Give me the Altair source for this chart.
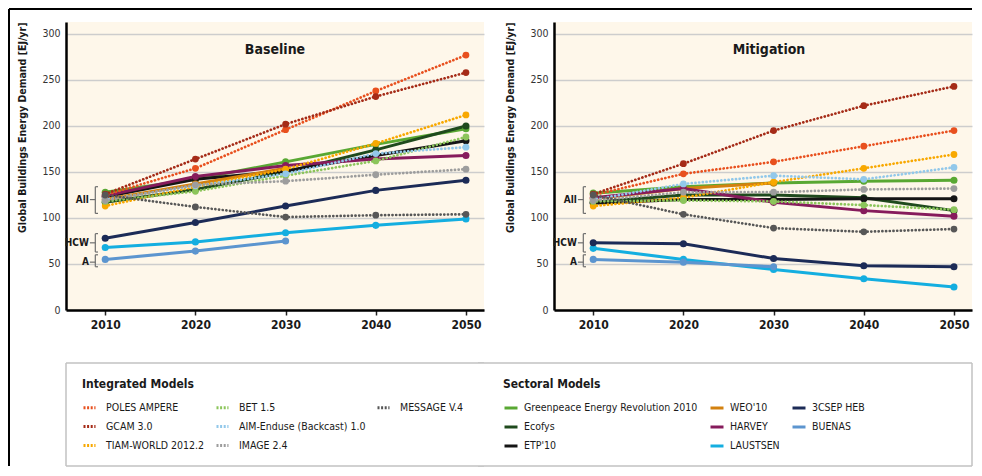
import altair as alt
import pandas as pd

FONT = "DejaVu Sans Condensed, DejaVu Sans, sans-serif"
BG = "#fef7ea"
INK = "#1a1a1a"
BOX = "#c2c2c2"

YEARS = [2010, 2020, 2030, 2040, 2050]
Y_TICKS = [0, 50, 100, 150, 200, 250, 300]

INTEGRATED = ["POLES AMPERE", "GCAM 3.0", "TIAM-WORLD 2012.2", "BET 1.5",
              "AIM-Enduse (Backcast) 1.0", "IMAGE 2.4", "MESSAGE V.4"]
INTEGRATED_COLORS = ["#e8501e", "#a52b17", "#f8a800", "#8cc55b",
                     "#92c8ea", "#9d9d9d", "#575757"]

SECTORAL = ["Greenpeace Energy Revolution 2010", "Ecofys", "ETP'10", "WEO'10",
            "HARVEY", "LAUSTSEN", "3CSEP HEB", "BUENAS"]
SECTORAL_COLORS = ["#59a833", "#1f4a1d", "#151515", "#d3810f",
                   "#861b5c", "#14aee0", "#1c2b57", "#5c95cf"]
SECTORAL_WIDTHS = [3, 3, 3, 3, 3, 3.6, 3, 2.2]

BASELINE = {
    "POLES AMPERE": [125, 154, 196, 238, 277],
    "GCAM 3.0": [126, 164, 202, 232, 258],
    "TIAM-WORLD 2012.2": [113, 134, 153, 181, 212],
    "BET 1.5": [118, 129, 146, 162, 188],
    "AIM-Enduse (Backcast) 1.0": [120, 135, 148, 170, 177],
    "IMAGE 2.4": [119, 136, 140, 147, 153],
    "MESSAGE V.4": [125, 112, 101, 103, 104],
    "Greenpeace Energy Revolution 2010": [128, 142, 161, 180, 197],
    "Ecofys": [117, 131, 150, 174, 200],
    "ETP'10": [123, 142, 151, 168, 184],
    "WEO'10": [120, 137, 154, None, None],
    "HARVEY": [124, 145, 157, 164, 168],
    "LAUSTSEN": [68, 74, 84, 92, 99],
    "3CSEP HEB": [78, 95, 113, 130, 141],
    "BUENAS": [55, 64, 75, None, None],
}

MITIGATION = {
    "POLES AMPERE": [125, 148, 161, 178, 195],
    "GCAM 3.0": [126, 159, 195, 222, 243],
    "TIAM-WORLD 2012.2": [113, 122, 139, 154, 169],
    "BET 1.5": [118, 119, 118, 114, 109],
    "AIM-Enduse (Backcast) 1.0": [120, 137, 146, 142, 155],
    "IMAGE 2.4": [119, 128, 128, 131, 132],
    "MESSAGE V.4": [125, 104, 89, 85, 88],
    "Greenpeace Energy Revolution 2010": [127, 134, 138, 140, 141],
    "Ecofys": [117, 125, 125, 122, 108],
    "ETP'10": [116, 120, 120, 121, 121],
    "WEO'10": [121, 132, 138, None, None],
    "HARVEY": [122, 132, 117, 108, 102],
    "LAUSTSEN": [67, 55, 44, 34, 25],
    "3CSEP HEB": [73, 72, 56, 48, 47],
    "BUENAS": [55, 52, 47, None, None],
}

BRACKET_LABELS = ["All", "HCW", "A"]
BRACKET_MID = [120, 73, 52]
BRACKET_LOW = [105, 63, 47]
BRACKET_HIGH = [134, 83, 60]

W, H = 418, 288
GAP = 72          # gap between the two plot areas
OVERLAP = 4       # the right panel's share of frame/legend box reaches over the gap
BOX_TOP, BOX_BOTTOM = 341, 444   # legend box, px below plot top
FRAME_X, FRAME_Y = -57, -13
LEGEND_SLOTS = 9  # 3 columns x 3 rows, filled column by column


def padded(names, values, filler):
    """Pad a legend domain to a full 3x3 grid with blank, invisible entries."""
    dom, rng = list(names), list(values)
    k = 1
    while len(dom) < LEGEND_SLOTS:
        dom.append(" " * k)
        rng.append(filler)
        k += 1
    return dom, rng


INT_DOMAIN, INT_RANGE = padded(INTEGRATED, INTEGRATED_COLORS, "transparent")
SEC_DOMAIN, SEC_RANGE = padded(SECTORAL, SECTORAL_COLORS, "transparent")
_, SEC_WIDTH_RANGE = padded(SECTORAL, SECTORAL_WIDTHS, 1)

LEG_COMMON = dict(orient="none", columns=3, symbolType="stroke",
                  labelFont=FONT, labelFontSize=10.5, labelColor=INK, labelLimit=400,
                  titleFont=FONT, titleFontSize=12, titleFontWeight="bold", titleColor=INK,
                  titlePadding=9, rowPadding=5, padding=0)
INT_LEGEND = alt.Legend(title="Integrated Models", legendX=16, legendY=357,
                        symbolSize=144, symbolStrokeWidth=3, symbolDash=[2, 1.6],
                        labelOffset=9, columnPadding=5, **LEG_COMMON)
SEC_LEGEND = alt.Legend(title="Sectoral Models", legendX=437, legendY=357,
                        symbolSize=169, symbolStrokeWidth=3.5,
                        labelOffset=5, columnPadding=6, **LEG_COMMON)

X_SCALE = alt.Scale(domain=[2005.65, 2052], nice=False, zero=False)
Y_SCALE = alt.Scale(domain=[0, 313], nice=False)


def build_panel(values, title_text, title_dx, side):
    rows = []
    for model in INTEGRATED + SECTORAL:
        for yr, v in zip(YEARS, values[model]):
            if v is not None:
                rows.append({"model": model, "year": yr, "value": v,
                             "kind": "Integrated" if model in INTEGRATED else "Sectoral"})
    df = pd.DataFrame(rows)

    x_enc = alt.X("year:Q", scale=X_SCALE, title=None,
                  axis=alt.Axis(values=YEARS, format="d", grid=False,
                                domainColor="black", domainWidth=2.5,
                                tickColor="#222", tickSize=5, tickWidth=1.5,
                                labelFont=FONT, labelFontSize=12, labelFontWeight="bold",
                                labelColor=INK, labelPadding=4))
    y_enc = alt.Y("value:Q", scale=Y_SCALE,
                  axis=alt.Axis(values=Y_TICKS, title="Global Buildings Energy Demand [EJ/yr]",
                                grid=True, gridColor="#cdcdcd", gridWidth=1.3,
                                domainColor="black", domainWidth=2.5, ticks=False,
                                labelFont=FONT, labelFontSize=10.5, labelColor="#333",
                                labelPadding=6, titleFont=FONT, titleFontSize=10.5,
                                titleFontWeight="bold", titleColor=INK,
                                titleAnchor="end", titlePadding=14))
    base = alt.Chart(df).encode(x=x_enc, y=y_enc)
    sect = base.transform_filter(alt.datum.kind == "Sectoral")
    integ = base.transform_filter(alt.datum.kind == "Integrated")

    sect_line = sect.mark_line().encode(
        stroke=alt.Stroke("model:N", scale=alt.Scale(domain=SEC_DOMAIN, range=SEC_RANGE),
                          legend=SEC_LEGEND),
        strokeWidth=alt.StrokeWidth("model:N", scale=alt.Scale(domain=SEC_DOMAIN,
                                                               range=SEC_WIDTH_RANGE),
                                    legend=None))
    sect_pts = sect.mark_circle(size=50, opacity=1).encode(
        fill=alt.Fill("model:N", scale=alt.Scale(domain=SEC_DOMAIN, range=SEC_RANGE),
                      legend=None))
    int_line = integ.mark_line(strokeDash=[0.1, 3.6], strokeCap="round",
                               strokeWidth=2.7).encode(
        color=alt.Color("model:N", scale=alt.Scale(domain=INT_DOMAIN, range=INT_RANGE),
                        legend=INT_LEGEND))
    int_pts = integ.mark_circle(size=46, opacity=1).encode(
        color=alt.Color("model:N", scale=alt.Scale(domain=INT_DOMAIN, range=INT_RANGE),
                        legend=INT_LEGEND))

    bdf = pd.DataFrame({"label": BRACKET_LABELS, "mid": BRACKET_MID,
                        "low": BRACKET_LOW, "high": BRACKET_HIGH})
    bch = alt.Chart(bdf)
    rule_style = dict(color="#6e6e6e", strokeWidth=1.2)
    b_vert = bch.mark_rule(**rule_style).encode(
        x=alt.X(datum=2008.9), y=alt.Y("low:Q"), y2="high:Q")
    b_low = bch.mark_rule(**rule_style).encode(
        x=alt.X(datum=2008.9), x2=alt.X2(datum=2009.2), y=alt.Y("low:Q"))
    b_high = bch.mark_rule(**rule_style).encode(
        x=alt.X(datum=2008.9), x2=alt.X2(datum=2009.2), y=alt.Y("high:Q"))
    b_mid = bch.mark_rule(**rule_style).encode(
        x=alt.X(datum=2008.3), x2=alt.X2(datum=2008.9), y=alt.Y("mid:Q"))
    b_text = bch.mark_text(align="right", baseline="middle", font=FONT, fontSize=10,
                           fontWeight="bold", color=INK, dx=-1).encode(
        x=alt.X(datum=2008.3), y=alt.Y("mid:Q"), text="label:N")

    title = alt.Chart(pd.DataFrame({"t": [title_text]})).mark_text(
        font=FONT, fontSize=14, fontWeight="bold", color=INK, baseline="middle").encode(
        text="t:N", x=alt.value(W / 2 + title_dx), y=alt.value(28))

    # pieces of the outer frame and of the legend box that this panel carries
    one = pd.DataFrame({"k": [0]})
    if side == "left":
        x0, x1 = 0, W
        deco = [
            alt.Chart(one).mark_rect(color="white").encode(
                x=alt.value(x0), x2=alt.value(x1), y=alt.value(BOX_TOP), y2=alt.value(BOX_BOTTOM)),
            alt.Chart(one).mark_rule(color=BOX, strokeWidth=1.5).encode(
                x=alt.value(x0), y=alt.value(BOX_TOP), y2=alt.value(BOX_BOTTOM)),
            alt.Chart(one).mark_rule(color="black", strokeWidth=2).encode(
                x=alt.value(FRAME_X), x2=alt.value(x1), y=alt.value(FRAME_Y)),
            alt.Chart(one).mark_rule(color="black", strokeWidth=2).encode(
                x=alt.value(FRAME_X), y=alt.value(FRAME_Y), y2=alt.value(BOX_BOTTOM)),
        ]
    else:
        x0, x1 = -GAP - OVERLAP, W
        deco = [
            alt.Chart(one).mark_rect(color="white").encode(
                x=alt.value(x0), x2=alt.value(x1), y=alt.value(BOX_TOP), y2=alt.value(BOX_BOTTOM)),
            alt.Chart(one).mark_rule(color=BOX, strokeWidth=1.5).encode(
                x=alt.value(x1), y=alt.value(BOX_TOP), y2=alt.value(BOX_BOTTOM)),
            alt.Chart(one).mark_rule(color="black", strokeWidth=2).encode(
                x=alt.value(x0), x2=alt.value(x1), y=alt.value(FRAME_Y)),
        ]
    deco += [
        alt.Chart(one).mark_rule(color=BOX, strokeWidth=1.5).encode(
            x=alt.value(x0), x2=alt.value(x1), y=alt.value(BOX_TOP)),
        alt.Chart(one).mark_rule(color=BOX, strokeWidth=1.5).encode(
            x=alt.value(x0), x2=alt.value(x1), y=alt.value(BOX_BOTTOM)),
    ]

    layers = [sect_line, sect_pts, int_line, int_pts,
              b_vert, b_low, b_high, b_mid, b_text, title] + deco

    return alt.layer(*layers).properties(
        width=W, height=H, view=alt.ViewBackground(fill=BG, strokeWidth=0))


left = build_panel(BASELINE, "Baseline", 0, "left")
right = build_panel(MITIGATION, "Mitigation", 6, "right")

chart = alt.hconcat(left, right, spacing=-8).properties(
    padding=0, background="white").configure_view(strokeWidth=0)

chart.save("out.html", embed_options={"renderer": "svg", "actions": False})
